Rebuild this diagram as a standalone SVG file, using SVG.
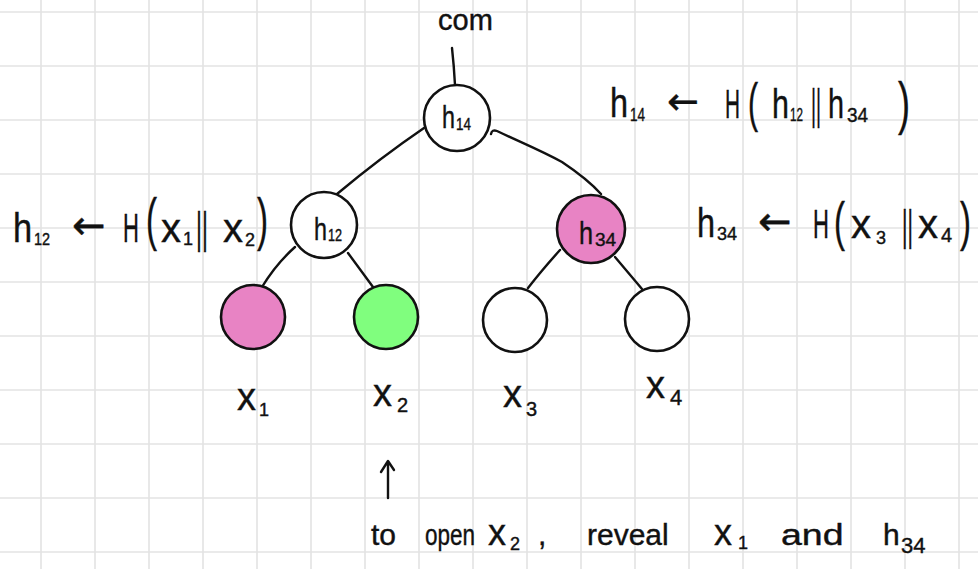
<svg xmlns="http://www.w3.org/2000/svg" width="978" height="569" viewBox="0 0 978 569">
<style>
.grid line{stroke:#e3e3e3;stroke-width:1.6}
.node{stroke:#111;stroke-width:2.6}
.white{fill:#fff}
.pink{fill:#e883c4}
.green{fill:#80fe7e}
.edge{fill:none;stroke:#111;stroke-width:2.4;stroke-linecap:round;stroke-linejoin:round}
text{font-family:"Liberation Sans","DejaVu Sans",sans-serif;fill:#111;stroke:#111;stroke-width:0.4}
.arr{font-family:"DejaVu Sans",sans-serif}
</style>
<rect width="978" height="569" fill="#fff"/>
<g class="grid">
<line x1="41" y1="0" x2="41" y2="569"/><line x1="95" y1="0" x2="95" y2="569"/><line x1="149" y1="0" x2="149" y2="569"/><line x1="203" y1="0" x2="203" y2="569"/><line x1="257" y1="0" x2="257" y2="569"/><line x1="311" y1="0" x2="311" y2="569"/><line x1="365" y1="0" x2="365" y2="569"/><line x1="419" y1="0" x2="419" y2="569"/><line x1="473" y1="0" x2="473" y2="569"/><line x1="527" y1="0" x2="527" y2="569"/><line x1="581" y1="0" x2="581" y2="569"/><line x1="635" y1="0" x2="635" y2="569"/><line x1="689" y1="0" x2="689" y2="569"/><line x1="743" y1="0" x2="743" y2="569"/><line x1="797" y1="0" x2="797" y2="569"/><line x1="851" y1="0" x2="851" y2="569"/><line x1="905" y1="0" x2="905" y2="569"/><line x1="959" y1="0" x2="959" y2="569"/>
<line x1="0" y1="12" x2="978" y2="12"/><line x1="0" y1="66" x2="978" y2="66"/><line x1="0" y1="120" x2="978" y2="120"/><line x1="0" y1="174" x2="978" y2="174"/><line x1="0" y1="228" x2="978" y2="228"/><line x1="0" y1="282" x2="978" y2="282"/><line x1="0" y1="336" x2="978" y2="336"/><line x1="0" y1="390" x2="978" y2="390"/><line x1="0" y1="444" x2="978" y2="444"/><line x1="0" y1="498" x2="978" y2="498"/><line x1="0" y1="552" x2="978" y2="552"/>
</g>
<g id="connectors">
<path class="edge" d="M452,48 Q454,66 455,85"/>
<path class="edge" d="M424,128 Q380,158 337,194"/>
<path class="edge" d="M491,134 Q492,129 497,131 C520,142 540,150 562,162 C580,174 592,184 601,194"/>
<path class="edge" d="M295,247 Q276,264 262,287"/>
<path class="edge" d="M348,253 L373,287"/>
<path class="edge" d="M560,250 Q542,270 528,288"/>
<path class="edge" d="M615,257 L642,289"/>
<path class="edge" d="M388,498 L388,462 M381,472 L388,461 L394,470"/>
</g>
<g id="node-h14">
<circle class="node white" cx="457" cy="118" r="33"/>
<text transform="translate(442,128) scale(0.73,1)" font-size="32">h</text>
<text transform="translate(456,130) scale(0.84,1)" font-size="16">14</text>
</g>
<g id="node-h12">
<circle class="node white" cx="324" cy="225" r="33"/>
<text transform="translate(314,240) scale(0.73,1)" font-size="32">h</text>
<text transform="translate(328,241) scale(0.79,1)" font-size="16">12</text>
</g>
<g id="node-h34">
<circle class="node pink" cx="591" cy="229" r="34"/>
<text transform="translate(579,244) scale(0.79,1)" font-size="32">h</text>
<text x="595" y="246" font-size="19">34</text>
</g>
<g id="node-x1">
<circle class="node pink" cx="253" cy="317" r="32"/>
<text x="237" y="410" font-size="38">x</text>
<text x="259" y="416" font-size="18">1</text>
</g>
<g id="node-x2">
<circle class="node green" cx="386" cy="317" r="32"/>
<text x="373" y="406" font-size="38">x</text>
<text x="397" y="412" font-size="20">2</text>
</g>
<g id="node-x3">
<circle class="node white" cx="515" cy="320" r="32"/>
<text x="503" y="407" font-size="38">x</text>
<text x="526" y="416" font-size="20">3</text>
</g>
<g id="node-x4">
<circle class="node white" cx="657" cy="319" r="32"/>
<text x="646" y="398" font-size="38">x</text>
<text x="670" y="405" font-size="22">4</text>
</g>
<g id="com">
<text x="438" y="30" font-size="29">com</text>
</g>
<g id="formula-h12">
<text transform="translate(13,242) scale(0.86,1)" font-size="40">h</text>
<text transform="translate(34,245) scale(0.85,1)" font-size="17">12</text>
<text class="arr" x="72" y="239" font-size="40">←</text>
<text transform="translate(123,242) scale(0.55,1)" font-size="40">H</text>
<text transform="translate(146,239) scale(0.57,1)" font-size="58">(</text>
<text x="161" y="242" font-size="40">x</text>
<text x="183" y="245" font-size="18">1</text>
<text transform="translate(196,243) scale(0.52,1)" font-size="44">||</text>
<text x="223" y="242" font-size="40">x</text>
<text x="245" y="246" font-size="18">2</text>
<text transform="translate(257,239) scale(0.57,1)" font-size="58">)</text>
</g>
<g id="formula-h14">
<text transform="translate(610,117) scale(0.81,1)" font-size="40">h</text>
<text transform="translate(630,121) scale(0.75,1)" font-size="18">14</text>
<text class="arr" x="667" y="114" font-size="38">←</text>
<text transform="translate(725,118) scale(0.52,1)" font-size="40">H</text>
<text transform="translate(748,121) scale(0.56,1)" font-size="54">(</text>
<text transform="translate(772,118) scale(0.76,1)" font-size="40">h</text>
<text transform="translate(790,121) scale(0.65,1)" font-size="18">12</text>
<text transform="translate(811,119) scale(0.46,1)" font-size="42">||</text>
<text transform="translate(828,118) scale(0.72,1)" font-size="40">h</text>
<text transform="translate(847,122) scale(0.95,1)" font-size="20">34</text>
<text transform="translate(898,123) scale(0.62,1)" font-size="58">)</text>
</g>
<g id="formula-h34">
<text transform="translate(697,237) scale(0.81,1)" font-size="40">h</text>
<text x="717" y="240" font-size="18">34</text>
<text class="arr" x="758" y="235" font-size="40">←</text>
<text transform="translate(813,238) scale(0.55,1)" font-size="40">H</text>
<text transform="translate(834,240) scale(0.61,1)" font-size="54">(</text>
<text x="851" y="238" font-size="40">x</text>
<text x="876" y="244" font-size="18">3</text>
<text transform="translate(902,240) scale(0.5,1)" font-size="42">||</text>
<text x="918" y="238" font-size="40">x</text>
<text x="941" y="242" font-size="20">4</text>
<text transform="translate(960,240) scale(0.61,1)" font-size="54">)</text>
</g>
<g id="note">
<text x="371" y="545" font-size="30">to</text>
<text transform="translate(425,545) scale(0.75,1)" font-size="30">open</text>
<text x="488" y="545" font-size="36">x</text>
<text x="510" y="550" font-size="18">2</text>
<text x="538" y="545" font-size="30">,</text>
<text x="587" y="545" font-size="30">reveal</text>
<text x="714" y="545" font-size="36">x</text>
<text x="738" y="549" font-size="18">1</text>
<text transform="translate(781,545) scale(1.25,1)" font-size="30">and</text>
<text x="883" y="545" font-size="30">h</text>
<text x="901" y="553" font-size="22">34</text>
</g>
</svg>
